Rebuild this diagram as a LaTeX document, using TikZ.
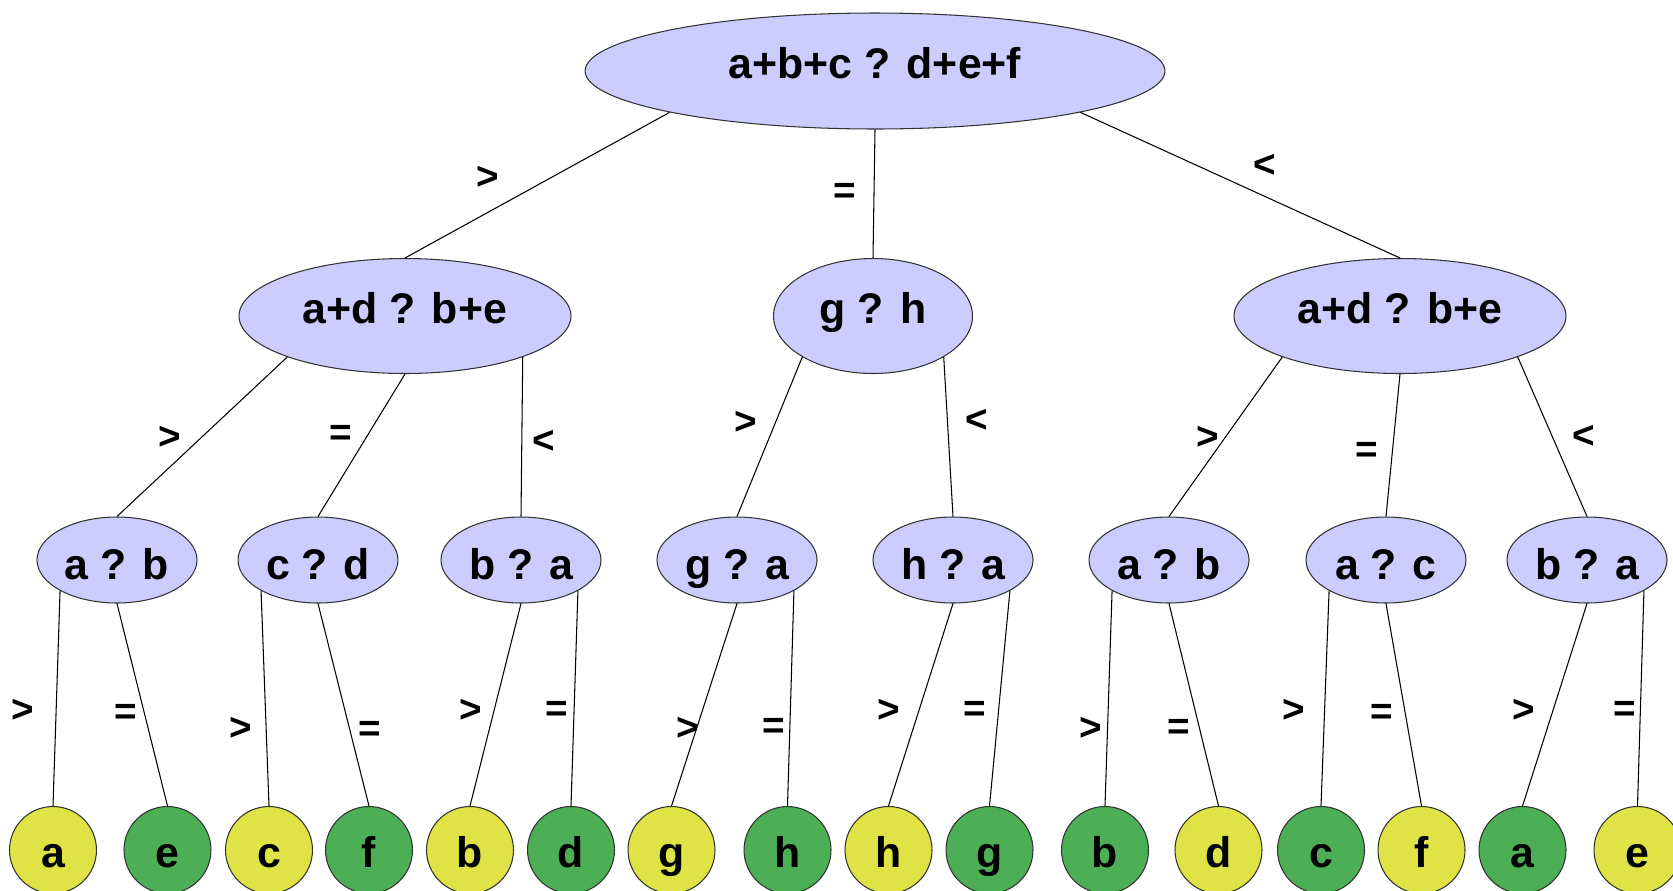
\documentclass[tikz,border=0pt]{standalone}
\usepackage{fontspec}
\setmainfont{Liberation Sans}
\usepackage{tikz}
\usetikzlibrary{shapes.geometric}
\definecolor{cmpfill}{HTML}{CCCCFF}
\definecolor{leafyel}{HTML}{DFE346}
\definecolor{leafgrn}{HTML}{4CAF55}

\begin{document}
\begin{tikzpicture}[x=0.02cm, y=-0.02cm, line width=0.6pt,
  every node/.style={font=\fontsize{24.4}{29}\selectfont\bfseries, inner sep=0pt},
  cmp/.style={ellipse, draw=black!80, fill=cmpfill, text height=9pt, text depth=0pt},
  small/.style={cmp, minimum width=3.2cm, minimum height=1.72cm, text height=22pt, text depth=0pt},
  leaf/.style={circle, draw=black!80, minimum size=1.74cm, text height=20.4pt, text depth=0pt},
  yel/.style={leaf, fill=leafyel}, grn/.style={leaf, fill=leafgrn},
  lbl/.style={font=\fontsize{22}{26}\selectfont\bfseries}]
  \useasboundingbox (0,0) rectangle (1673,890);
  \node[cmp, minimum width=11.6cm, minimum height=2.32cm] (root) at (875,71) {a+b+c ? d+e+f};
  \node[cmp, minimum width=6.64cm, minimum height=2.3cm] (left) at (405,316) {a+d ? b+e};
  \node[cmp, minimum width=3.98cm, minimum height=2.3cm] (mid) at (873,316) {g ? h};
  \node[cmp, minimum width=6.64cm, minimum height=2.3cm] (right) at (1400,316) {a+d ? b+e};
  \node[small] (ab) at (117,560) {a ? b};
  \node[small] (cd) at (318,560) {c ? d};
  \node[small] (ba) at (521,560) {b ? a};
  \node[small] (ga) at (737,560) {g ? a};
  \node[small] (ha) at (953,560) {h ? a};
  \node[small] (ab2) at (1169,560) {a ? b};
  \node[small] (ac) at (1386,560) {a ? c};
  \node[small] (ba2) at (1587,560) {b ? a};
  \node[yel] (aba) at (53,850) {a};
  \node[grn] (abe) at (167.5,850) {e};
  \node[yel] (cdc) at (269,850) {c};
  \node[grn] (cdf) at (369,850) {f};
  \node[yel] (bab) at (470,850) {b};
  \node[grn] (bad) at (571,850) {d};
  \node[yel] (gag) at (671.5,850) {g};
  \node[grn] (gah) at (787.5,850) {h};
  \node[yel] (hah) at (888.5,850) {h};
  \node[grn] (hag) at (989.5,850) {g};
  \node[grn] (ab2b) at (1105,850) {b};
  \node[yel] (ab2d) at (1218.5,850) {d};
  \node[grn] (acc) at (1321,850) {c};
  \node[yel] (acf) at (1421.5,850) {f};
  \node[grn] (ba2a) at (1522.5,850) {a};
  \node[yel] (ba2e) at (1637.5,850) {e};
  \draw (root.south west) -- node[lbl, pos=.45, xshift=-1.26cm] {>} (left.north);
  \draw (root.south) -- node[lbl, pos=.5, xshift=-0.58cm] {=} (mid.north);
  \draw (root.south east) -- node[lbl, pos=.37, xshift=1.32cm] {<} (right.north);
  \draw (left.south west) -- node[lbl, pos=.51, xshift=-0.62cm] {>} (ab.north);
  \draw (left.south) -- node[lbl, pos=.43, xshift=-0.54cm] {=} (cd.north);
  \draw (left.south east) -- node[lbl, pos=.53, xshift=0.44cm] {<} (ba.north);
  \draw (mid.south west) -- node[lbl, pos=.41, xshift=-0.6cm] {>} (ga.north);
  \draw (mid.south east) -- node[lbl, pos=.4, xshift=0.58cm] {<} (ha.north);
  \draw (right.south west) -- node[lbl, pos=.51, xshift=-0.34cm] {>} (ab2.north);
  \draw (right.south) -- node[lbl, pos=.55, xshift=-0.52cm] {=} (ac.north);
  \draw (right.south east) -- node[lbl, pos=.5, xshift=0.62cm] {<} (ba2.north);
  \draw (ab.south west) -- node[lbl, pos=.56, xshift=-0.66cm] {>} (aba.north);
  \draw (ab.south) -- node[lbl, pos=.55, xshift=-0.38cm] {=} (abe.north);
  \draw (cd.south west) -- node[lbl, pos=.64, xshift=-0.5cm] {>} (cdc.north);
  \draw (cd.south) -- node[lbl, pos=.63, xshift=0.4cm] {=} (cdf.north);
  \draw (ba.south) -- node[lbl, pos=.53, xshift=-0.46cm] {>} (bab.north);
  \draw (ba.south east) -- node[lbl, pos=.56, xshift=-0.34cm] {=} (bad.north);
  \draw (ga.south) -- node[lbl, pos=.62, xshift=-0.18cm] {>} (gag.north);
  \draw (ga.south east) -- node[lbl, pos=.64, xshift=-0.32cm] {=} (gah.north);
  \draw (ha.south) -- node[lbl, pos=.53, xshift=-0.6cm] {>} (hah.north);
  \draw (ha.south east) -- node[lbl, pos=.56, xshift=-0.48cm] {=} (hag.north);
  \draw (ab2.south west) -- node[lbl, pos=.64, xshift=-0.34cm] {>} (ab2b.north);
  \draw (ab2.south) -- node[lbl, pos=.62, xshift=-0.42cm] {=} (ab2d.north);
  \draw (ac.south west) -- node[lbl, pos=.56, xshift=-0.62cm] {>} (acc.north);
  \draw (ac.south) -- node[lbl, pos=.55, xshift=-0.48cm] {=} (acf.north);
  \draw (ba2.south) -- node[lbl, pos=.53, xshift=-0.58cm] {>} (ba2a.north);
  \draw (ba2.south east) -- node[lbl, pos=.56, xshift=-0.32cm] {=} (ba2e.north);
\end{tikzpicture}
\end{document}
